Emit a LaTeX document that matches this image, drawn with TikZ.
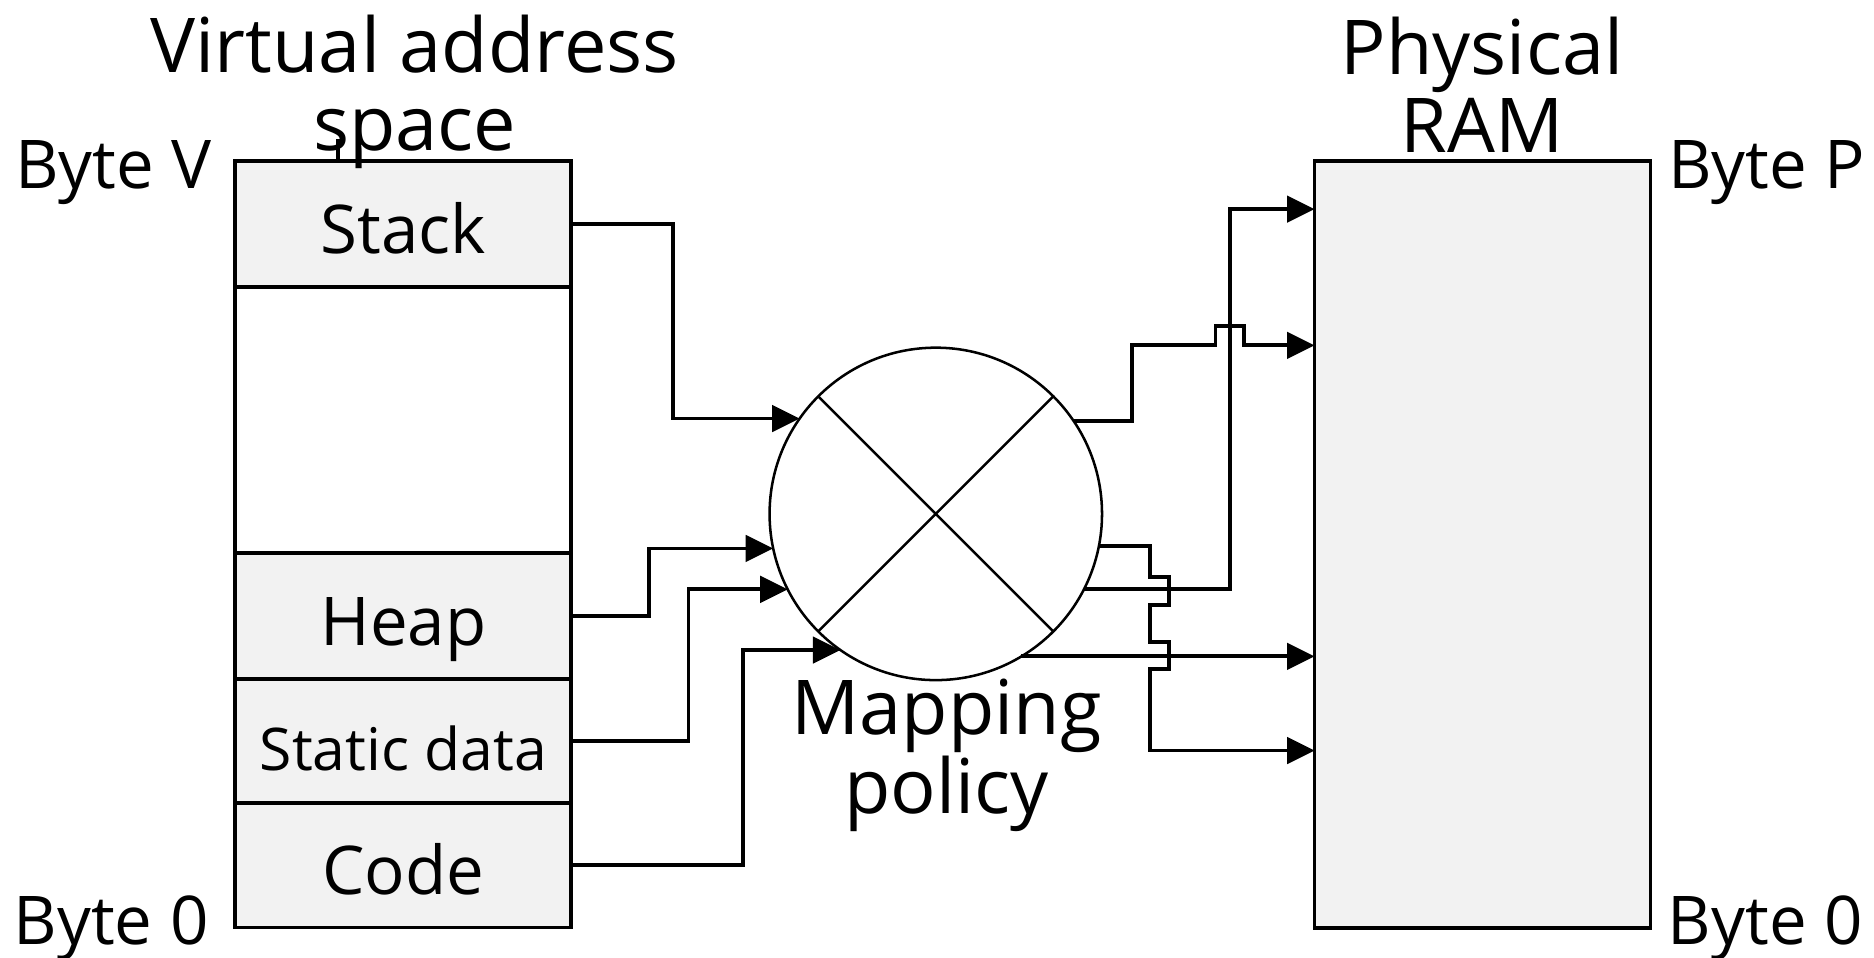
\documentclass[tikz,border=0pt]{standalone}
\usepackage{fontspec}
\setmainfont{Open Sans}
\usetikzlibrary{arrows.meta}
\definecolor{segfill}{HTML}{F2F2F2}
\begin{document}
\begin{tikzpicture}[x=0.01cm,y=-0.01cm,
  seg/.style={draw=black,line width=0.9pt,fill=segfill,minimum width=2.81cm,inner sep=0pt,outer sep=0pt,text height=0.6cm,text depth=0.11cm,font=\fontsize{16}{19}\selectfont},
  conn/.style={line width=0.9pt},
  arr/.style={conn,-{Triangle[length=0.23cm,width=0.22cm]}},
  title/.style={align=center,font=\fontsize{18}{18.6}\selectfont,inner sep=0pt},
  lbl/.style={font=\fontsize{16}{19}\selectfont,anchor=base,inner sep=0pt}]
\useasboundingbox (0,0) rectangle (1568,801);

% virtual address space
\node[seg,minimum height=1.05cm] (stack) at (337.5,187.5) {Stack};
\node[seg,minimum height=2.23cm,fill=white] (free) at (337.5,351.5) {};
\node[seg,minimum height=1.05cm] (heap) at (337.5,515.5) {Heap};
\node[seg,minimum height=1.04cm,font=\fontsize{14}{17}\selectfont] (static) at (337.5,620) {Static data};
\node[seg,minimum height=1.04cm] (code) at (337.5,724) {Code};

% physical RAM
\node[draw,line width=0.9pt,fill=segfill,minimum width=2.81cm,minimum height=6.41cm,inner sep=0pt,outer sep=0pt] (ram) at (1240.5,455.5) {};

% mapping policy
\node[circle,draw,line width=0.6pt,minimum size=2.78cm,inner sep=0pt,outer sep=0pt] (m) at (783,430) {};
\draw[line width=0.6pt] (m.45) -- (m.225) (m.135) -- (m.315);

% titles
\node[title] (vas) at (347,77) {Virtual address\\space};
\node[title] (pram) at (1240,71) {Physical\\RAM};
\node[title] (map) at (792,632) {Mapping\\policy};
\coordinate (vtick) at (283,116);
\draw[conn] (vtick) -- (stack.north -| vtick);

% byte labels
\node[lbl] (bv) at (95,158) {Byte V};
\node[lbl] (b0l) at (93,790) {Byte 0};
\node[lbl] (bp) at (1478,158) {Byte P};
\node[lbl] (b0r) at (1477,790) {Byte 0};

% inputs
\draw[arr] (stack.east) -- (563,187.5) |- (m.145.4);
\draw[arr] (heap.east) -- (543,515.5) |- (m.192.5);
\draw[arr] (static.east) -- (576,620) |- (m.207);
\draw[arr] (code.east) -- (622,724) |- (m.235.1);

% outputs
\draw[arr] (m.333) -| (1029,175) -- (ram.west |- 0,175);
\draw[arr] (m.301.9) -- (ram.west |- m.301.9);
\draw[arr] (m.34.6) -| (947,289) -- (1017,289) -- (1017,273) -- (1041,273) -- (1041,289) -- (ram.west |- 0,289);
\draw[arr] (m.349.2) -| (962,483) -- (978,483) -- (978,506) -- (962,506) -- (962,537) -- (978,537) -- (978,560) -- (962,560) |- (ram.west |- 0,628);
\end{tikzpicture}
\end{document}
